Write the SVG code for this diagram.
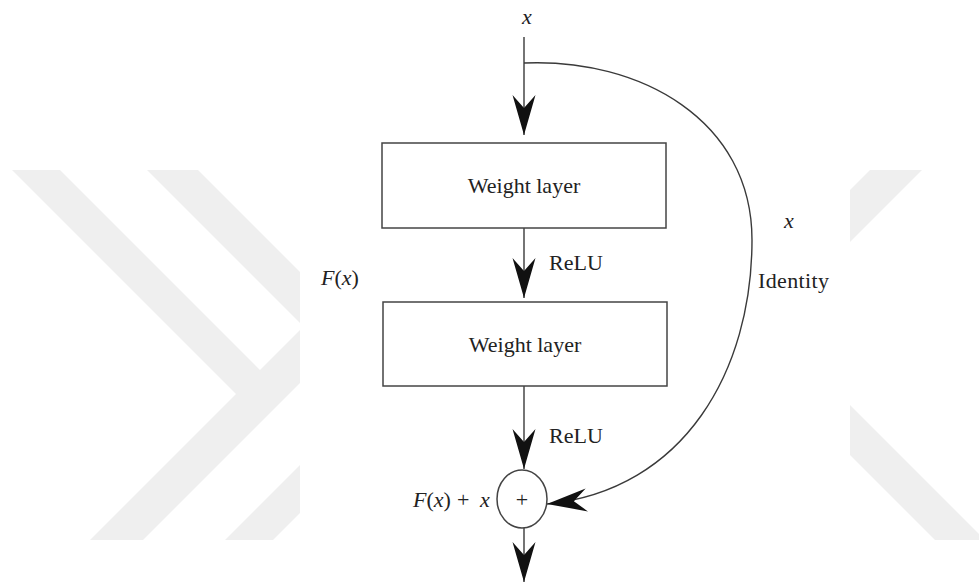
<svg xmlns="http://www.w3.org/2000/svg" width="979" height="583" viewBox="0 0 979 583">
  <style>
    .mark { fill: #efefef; }
    .box { fill: #ffffff; stroke: #444444; stroke-width: 1.5; }
    .wire { fill: none; stroke: #3a3a3a; stroke-width: 1.4; }
    .lbl { font-family: "Liberation Serif", "Times New Roman", serif; font-size: 22px; fill: #222222; }
    .it { font-style: italic; }
  </style>
  <defs>
    <marker id="head" markerUnits="userSpaceOnUse" refX="0" refY="0" markerWidth="50" markerHeight="30" viewBox="-45 -15 50 30" orient="auto" overflow="visible">
      <path d="M0,0 L-40,-11.5 L-27,0 L-40,11.5 Z" fill="#111111"/>
    </marker>
  </defs>

  <rect width="979" height="583" fill="#ffffff"/>

  <!-- faint background chevrons -->
  <g id="backdrop">
    <polygon class="mark" points="12,170 60,170 260,370 300,330 300,383 143,540 90,540 236,394"/>
    <polygon class="mark" points="147,170 198,170 300,272 300,323"/>
    <polygon class="mark" points="225,540 273,540 300,513 300,465"/>
    <polygon class="mark" points="870,170 922,170 850,242 850,190"/>
    <polygon class="mark" points="850,405 979,534 979,540 935,540 850,455"/>
  </g>

  <!-- connectors -->
  <g id="connectors">
    <line class="wire" x1="524" y1="37" x2="524" y2="135" marker-end="url(#head)"/>
    <line class="wire" x1="524" y1="228" x2="524" y2="298" marker-end="url(#head)"/>
    <line class="wire" x1="524" y1="386" x2="524" y2="469" marker-end="url(#head)"/>
    <line class="wire" x1="524" y1="528" x2="524" y2="582" marker-end="url(#head)"/>
    <path class="wire" d="M524,63 C640,58 752,120 752,240 C752,370 685,490 547,504" marker-end="url(#head)"/>
  </g>

  <g id="input-label">
    <text class="lbl it" x="527" y="24" text-anchor="middle">x</text>
  </g>

  <g id="weight-layer-1">
    <rect class="box" x="382" y="143" width="284" height="85"/>
    <text class="lbl" x="524" y="193" text-anchor="middle">Weight layer</text>
  </g>

  <g id="relu-1">
    <text class="lbl" x="549" y="270">ReLU</text>
  </g>

  <g id="weight-layer-2">
    <rect class="box" x="383" y="302" width="284" height="84"/>
    <text class="lbl" x="525" y="352" text-anchor="middle">Weight layer</text>
  </g>

  <g id="relu-2">
    <text class="lbl" x="549" y="443">ReLU</text>
  </g>

  <g id="residual-label">
    <text class="lbl" x="321" y="285"><tspan class="it">F</tspan>(<tspan class="it">x</tspan>)</text>
  </g>

  <g id="identity-label">
    <text class="lbl it" x="789" y="228" text-anchor="middle">x</text>
    <text class="lbl" x="758" y="288" textLength="71">Identity</text>
  </g>

  <g id="sum">
    <ellipse class="box" cx="522" cy="499" rx="25" ry="29"/>
    <text class="lbl" x="522" y="507" text-anchor="middle">+</text>
    <text class="lbl" x="413" y="507"><tspan class="it">F</tspan>(<tspan class="it">x</tspan>)</text>
    <text class="lbl" x="457" y="507">+</text>
    <text class="lbl it" x="480" y="507">x</text>
  </g>
</svg>
